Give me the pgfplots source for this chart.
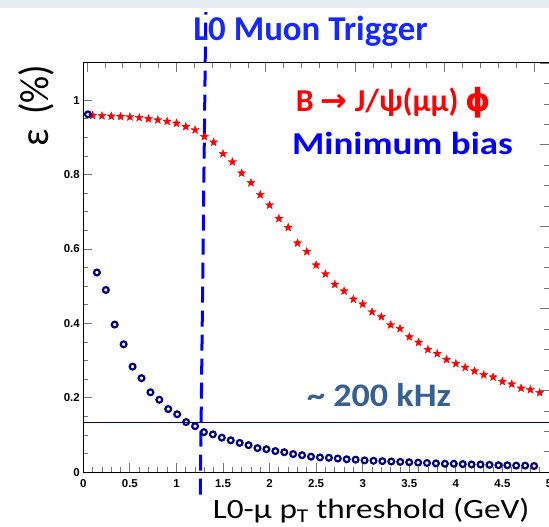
\documentclass[border=0pt]{standalone}
\usepackage{fontspec}
\setmainfont{Carlito}
\newfontfamily\helv{Liberation Sans}
\newfontfamily\dejavu{DejaVu Sans}
\usepackage{graphicx}
\usepackage{pgfplots}
\pgfplotsset{compat=1.18}
\definecolor{navy}{RGB}{0,0,128}
\definecolor{trigblue}{RGB}{20,40,255}
\definecolor{rateblue}{RGB}{55,96,146}
\definecolor{strip}{RGB}{230,237,245}

% filled five-pointed star
\pgfdeclareplotmark{fstar}{%
  \pgfpathmoveto{\pgfpointpolar{90}{\pgfplotmarksize}}%
  \pgfpathlineto{\pgfpointpolar{126}{0.42\pgfplotmarksize}}%
  \pgfpathlineto{\pgfpointpolar{162}{\pgfplotmarksize}}%
  \pgfpathlineto{\pgfpointpolar{198}{0.42\pgfplotmarksize}}%
  \pgfpathlineto{\pgfpointpolar{234}{\pgfplotmarksize}}%
  \pgfpathlineto{\pgfpointpolar{270}{0.42\pgfplotmarksize}}%
  \pgfpathlineto{\pgfpointpolar{306}{\pgfplotmarksize}}%
  \pgfpathlineto{\pgfpointpolar{342}{0.42\pgfplotmarksize}}%
  \pgfpathlineto{\pgfpointpolar{18}{\pgfplotmarksize}}%
  \pgfpathlineto{\pgfpointpolar{54}{0.42\pgfplotmarksize}}%
  \pgfpathclose
  \pgfusepathqfillstroke}

\begin{document}
\begin{tikzpicture}
\fill[strip] (-83.3bp,464.3bp) rectangle (465.7bp,472.3bp);

% top / right ticks (ROOT frame)
\begin{axis}[
  at={(0,0)}, anchor=south west, scale only axis,
  width=465.7bp, height=409.3bp,
  xmin=0, xmax=5, ymin=0, ymax=1.1,
  xtick={0.04,1.0,1.96,2.92,3.88,4.84}, minor x tick num=4,
  ytick={0,0.22,0.44,0.66,0.88,1.1}, minor y tick num=3,
  xtick pos=right, ytick pos=right,
  xticklabels={}, yticklabels={},
  tick align=inside,
  major tick length=9bp, minor tick length=5bp,
  tick style={black!55, line width=0.8bp},
  axis line style={black, line width=1bp},
]
\end{axis}

\begin{axis}[
  at={(0,0)}, anchor=south west, scale only axis,
  width=465.7bp, height=409.3bp,
  xmin=0, xmax=5, ymin=0, ymax=1.1,
  xtick={0,0.5,1,1.5,2,2.5,3,3.5,4,4.5,5},
  xticklabels={0,0.5,1,1.5,2,2.5,3,3.5,4,4.5,5},
  minor x tick num=4,
  ytick={0,0.2,0.4,0.6,0.8,1},
  yticklabels={0,0.2,0.4,0.6,0.8,1},
  minor y tick num=3,
  xtick pos=left, ytick pos=left,
  tick align=inside,
  major tick length=9bp, minor tick length=5bp,
  tick style={black!55, line width=0.8bp},
  axis line style={black, line width=1bp},
  tick label style={font=\helv\bfseries\fontsize{11.5}{12}\selectfont},
  xticklabel style={yshift=-4bp},
  clip=false,
]
\addplot[only marks, mark=fstar, mark size=4.3bp, red,
  mark options={fill=red, draw=red, line width=0.3bp}] coordinates {
  (0.1,0.959)(0.2,0.958)(0.3,0.957)(0.4,0.956)(0.5,0.955)
  (0.6,0.953)(0.7,0.950)(0.8,0.947)(0.9,0.943)(1.0,0.938)
  (1.1,0.929)(1.2,0.920)(1.3,0.902)(1.4,0.887)(1.5,0.856)
  (1.6,0.834)(1.7,0.804)(1.8,0.778)(1.9,0.746)(2.0,0.718)
  (2.1,0.682)(2.2,0.658)(2.3,0.616)(2.4,0.593)(2.5,0.557)
  (2.6,0.533)(2.7,0.505)(2.8,0.487)(2.9,0.465)(3.0,0.452)
  (3.1,0.431)(3.2,0.418)(3.3,0.396)(3.4,0.386)(3.5,0.364)
  (3.6,0.349)(3.7,0.330)(3.8,0.319)(3.9,0.303)(4.0,0.292)
  (4.1,0.282)(4.2,0.272)(4.3,0.262)(4.4,0.256)(4.5,0.244)
  (4.6,0.237)(4.7,0.226)(4.8,0.222)(4.9,0.214)
};
\addplot[only marks, mark=o, mark size=2.9bp, navy,
  mark options={line width=2.2bp}] coordinates {
  (0.050,0.962)(0.146,0.537)(0.242,0.490)(0.337,0.397)(0.433,0.344)
  (0.529,0.284)(0.625,0.253)(0.721,0.215)(0.816,0.195)(0.912,0.170)
  (1.008,0.156)(1.104,0.135)(1.200,0.124)(1.295,0.108)(1.391,0.102)
  (1.487,0.093)(1.583,0.086)(1.679,0.079)(1.774,0.073)(1.870,0.065)
  (1.966,0.062)(2.062,0.057)(2.158,0.054)(2.253,0.049)(2.349,0.046)
  (2.445,0.042)(2.541,0.040)(2.637,0.039)(2.732,0.037)(2.828,0.035)
  (2.924,0.034)(3.020,0.032)(3.116,0.031)(3.211,0.030)(3.307,0.029)
  (3.403,0.028)(3.499,0.027)(3.595,0.026)(3.690,0.025)(3.786,0.024)
  (3.882,0.023)(3.978,0.023)(4.074,0.022)(4.169,0.021)(4.265,0.021)
  (4.361,0.020)(4.457,0.019)(4.553,0.019)(4.648,0.018)(4.744,0.018)
  (4.840,0.017)
};
% rate line
\addplot[navy, line width=1.2bp] coordinates {(0,0.134)(5,0.134)};
% trigger threshold
\addplot[blue, line width=3bp, dash pattern=on 16bp off 8bp]
  coordinates {(1.256,-0.06)(1.315,1.237)};

% axis labels
\node[anchor=base east, font=\fontsize{28}{28}\selectfont]
  at (axis description cs:0.9657,-0.1124)
  {\scalebox{1.19}[1]{L0-μ p\textsubscript{T} threshold (GeV)}};
\node[rotate=90, anchor=center, font=\fontsize{38}{38}\selectfont]
  at (axis description cs:-0.1016,0.896)
  {\scalebox{1}[1.08]{ε\hspace{0.15em} (\%)}};

\node[anchor=base, text=trigblue, font=\bfseries\fontsize{35}{35}\selectfont]
  at (axis description cs:0.488,1.056) {L0 Muon Trigger};
\node[anchor=base, red, font=\bfseries\fontsize{32}{32}\selectfont]
  at (axis cs:3.33,0.969) {B {\dejavu\bfseries →} J/ψ(μμ) {\dejavu\bfseries ϕ}};
\node[anchor=base, blue, font=\bfseries\fontsize{32}{32}\selectfont]
  at (axis cs:3.427,0.855) {\scalebox{1.16}[1]{Minimum bias}};
\node[anchor=base, text=rateblue, font=\bfseries\fontsize{33}{33}\selectfont]
  at (axis cs:3.175,0.176) {\scalebox{1.1}[1]{\textasciitilde{} 200 kHz}};
\end{axis}

\pgfresetboundingbox
\useasboundingbox (-83.3bp,-54.7bp) rectangle (465.7bp,472.3bp);
\end{tikzpicture}
\end{document}
